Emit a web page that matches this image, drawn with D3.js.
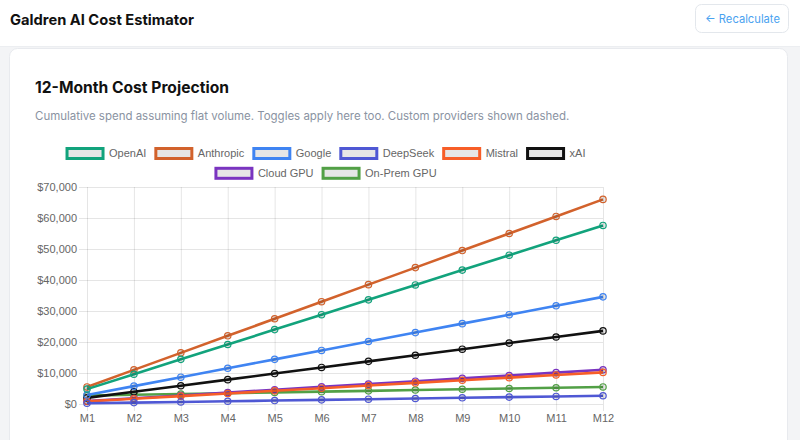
<!DOCTYPE html>
<html><head><meta charset="utf-8">
<script src="https://cdn.jsdelivr.net/npm/d3@7"></script>
<style>html,body{margin:0;padding:0;background:#f3f4f6;}svg{display:block}</style>
</head><body><svg id="c" width="800" height="440"></svg>
<script>
const months = ["M1","M2","M3","M4","M5","M6","M7","M8","M9","M10","M11","M12"];
const seriesNames = ["OpenAI","Anthropic","Google","DeepSeek","Mistral","xAI","Cloud GPU","On-Prem GPU"];
const seriesColors = ["#12a37c","#d2622c","#3f84f2","#4f58d4","#f75e28","#111111","#7a34c0","#52a046"];
const openai    = [4800,9600,14400,19200,24000,28800,33600,38400,43200,48000,52800,57600];
const anthropic = [5500,11000,16500,22000,27500,33000,38500,44000,49500,55000,60500,66000];
const google    = [2880,5760,8640,11520,14400,17280,20160,23040,25920,28800,31680,34560];
const deepseek  = [222,444,666,888,1110,1332,1554,1776,1998,2220,2442,2664];
const mistral   = [850,1700,2550,3400,4250,5100,5950,6800,7650,8500,9350,10200];
const xai       = [1965,3930,5895,7860,9825,11790,13755,15720,17685,19650,21615,23580];
const cloudGpu  = [920,1840,2760,3680,4600,5520,6440,7360,8280,9200,10120,11040];
const onPremGpu = [2700,2960,3220,3480,3740,3990,4240,4500,4750,5000,5250,5500];
const yTicks = [0,10000,20000,30000,40000,50000,60000,70000];
const seriesValues = [openai,anthropic,google,deepseek,mistral,xai,cloudGpu,onPremGpu];

const svg = d3.select("#c");
const sans = "Inter, 'Noto Sans', sans-serif";
const chartFont = "'Liberation Sans', Arial, sans-serif";

function fitWidth(sel, target){
  const base = parseFloat(sel.attr("font-size"));
  const w = sel.node().getComputedTextLength();
  sel.attr("font-size", (base*target/w).toFixed(2));
}

// header
svg.append("rect").attr("x",0).attr("y",0).attr("width",800).attr("height",46).attr("fill","#ffffff");
svg.append("line").attr("x1",0).attr("x2",800).attr("y1",46.5).attr("y2",46.5).attr("stroke","#eceef1");
const t1 = svg.append("text").attr("x",10).attr("y",20).attr("dy","0.35em")
  .attr("font-family",sans).attr("font-weight",700).attr("font-size",16).attr("fill","#111")
  .text("Galdren AI Cost Estimator");
fitWidth(t1,184);
svg.append("rect").attr("x",695.5).attr("y",4.5).attr("width",93).attr("height",28).attr("rx",6)
  .attr("fill","#fff").attr("stroke","#e3e7ec");
const bt = svg.append("text").attr("x",705).attr("y",19).attr("dy","0.35em")
  .attr("font-family",sans).attr("font-size",13).attr("fill","#4aa2f0").text("← Recalculate");
fitWidth(bt,75);

// card
svg.append("rect").attr("x",9.5).attr("y",48.5).attr("width",778).attr("height",420).attr("rx",8)
  .attr("fill","#fff").attr("stroke","#e8eaee");
const ct = svg.append("text").attr("x",35).attr("y",88).attr("dy","0.35em")
  .attr("font-family",sans).attr("font-weight",700).attr("font-size",16).attr("fill","#111")
  .text("12-Month Cost Projection");
fitWidth(ct,194);
const st = svg.append("text").attr("x",35).attr("y",116).attr("dy","0.35em")
  .attr("font-family",sans).attr("font-size",13).attr("fill","#8a93a2")
  .text("Cumulative spend assuming flat volume. Toggles apply here too. Custom providers shown dashed.");
fitWidth(st,535);

// scales
const x = d3.scalePoint().domain(months).range([87,603]);
const y = d3.scaleLinear().domain([0,70000]).range([404,187]);

// axes/grid
const gy = svg.append("g").attr("transform","translate(79,0)")
  .call(d3.axisLeft(y).tickValues(yTicks).tickSizeInner(-(603-79)).tickSizeOuter(0).tickPadding(2)
    .tickFormat(d=>"$"+d3.format(",")(d)));
gy.select(".domain").remove();
gy.selectAll("line").attr("stroke","rgba(0,0,0,0.1)");
gy.selectAll("text").attr("font-family",chartFont).attr("font-size",11).attr("fill","#666");

const gx = svg.append("g").attr("transform","translate(0,187)")
  .call(d3.axisBottom(x).tickSizeInner(224).tickSizeOuter(0).tickPadding(3));
gx.select(".domain").remove();
gx.selectAll("line").attr("stroke","rgba(0,0,0,0.1)");
gx.selectAll("text").attr("font-family",chartFont).attr("font-size",11).attr("fill","#666");

// lines (first dataset drawn on top)
const line = d3.line().x((d,i)=>x(months[i])).y(d=>y(d));
const order = d3.range(seriesNames.length).reverse();
const gl = svg.append("g");
order.forEach(k=>{
  const g = gl.append("g");
  g.append("path").datum(seriesValues[k]).attr("d",line).attr("fill","none")
    .attr("stroke",seriesColors[k]).attr("stroke-width",2.6).attr("stroke-linejoin","round");
  g.selectAll("circle").data(seriesValues[k]).join("circle")
    .attr("cx",(d,i)=>x(months[i])).attr("cy",d=>y(d)).attr("r",3.2)
    .attr("fill","rgba(0,0,0,0.1)").attr("stroke",seriesColors[k]).attr("stroke-width",1.2);
});

// legend
const rows = [[0,1,2,3,4,5],[6,7]];
const rowY = [153.5,173.3];
const legend = svg.append("g");
rows.forEach((r,ri)=>{
  const items = r.map(k=>{
    const tx = legend.append("text").attr("font-family",chartFont).attr("font-size",11)
      .attr("fill","#666").attr("dy","0.35em").attr("y",rowY[ri]).text(seriesNames[k]);
    return {k, tx, w: tx.node().getComputedTextLength()};
  });
  const total = d3.sum(items, it=>39+4.5+it.w) + 8*(items.length-1);
  let cx = 325.5 - total/2;
  items.forEach(it=>{
    legend.append("rect").attr("x",cx+1.5).attr("y",rowY[ri]-5).attr("width",36).attr("height",10)
      .attr("fill","#e6e6e6").attr("stroke",seriesColors[it.k]).attr("stroke-width",3);
    it.tx.attr("x",cx+43.5);
    cx += 39+4.5+it.w+8;
  });
});
</script></body></html>
